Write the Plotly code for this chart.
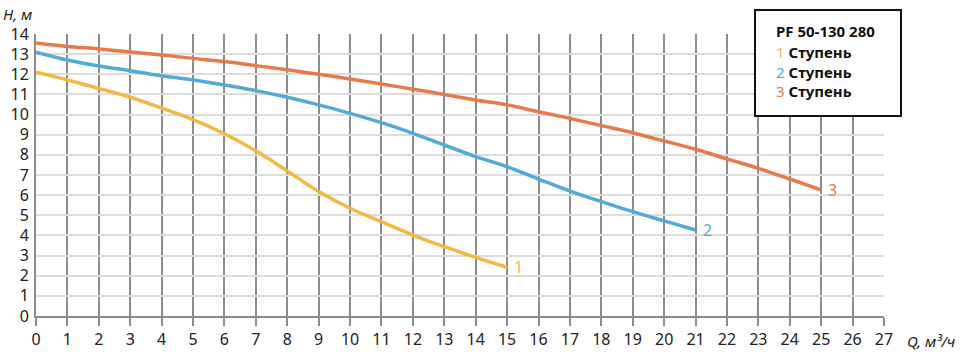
import plotly.graph_objects as go

q1 = list(range(0, 16))
h1 = [12.1, 11.72, 11.3, 10.86, 10.32, 9.75, 9.05, 8.2, 7.2, 6.18, 5.35, 4.68, 4.02, 3.44, 2.91, 2.42]

q2 = list(range(0, 22))
h2 = [13.1, 12.71, 12.41, 12.18, 11.93, 11.72, 11.47, 11.19, 10.86, 10.48, 10.06, 9.6, 9.07, 8.49, 7.91,
      7.41, 6.8, 6.2, 5.68, 5.18, 4.72, 4.27]

q3 = list(range(0, 26))
h3 = [13.55, 13.38, 13.26, 13.11, 12.96, 12.79, 12.63, 12.43, 12.23, 12.0, 11.77, 11.52, 11.26, 11.0, 10.72,
      10.48, 10.14, 9.81, 9.45, 9.1, 8.69, 8.28, 7.8, 7.33, 6.8, 6.26]

series_names = ["1", "2", "3"]
colors = ["#F3B844", "#52AAD8", "#E8794A"]
legend_title = "PF 50-130 280"
legend_word = "Ступень"
x_title = "Q, м³/ч"
y_title = "H, м"
x_ticks = list(range(0, 28))
y_ticks = list(range(0, 15))

fig = go.Figure()
for q, h, name, c in zip([q1, q2, q3], [h1, h2, h3], series_names, colors):
    fig.add_trace(go.Scatter(x=q, y=h, mode="lines", line=dict(color=c, width=3.5, shape="spline", smoothing=1.0),
                             showlegend=False, hoverinfo="skip"))
    fig.add_annotation(x=q[-1], y=h[-1], text=name, showarrow=False, xanchor="left", yanchor="middle",
                       xshift=5, font=dict(color=c, size=16, family="Noto Sans"))

fig.update_layout(
    width=960, height=353,
    margin=dict(l=36, r=76, t=34, b=37, autoexpand=False),
    paper_bgcolor="white", plot_bgcolor="white",
    font=dict(family="Noto Sans", color="#222"),
)
fig.update_xaxes(range=[0, 27], tickvals=x_ticks, showgrid=True, gridcolor="#8c8c8c", gridwidth=2,
                 showline=True, linecolor="#8c8c8c", linewidth=2, ticks="outside", ticklen=8,
                 tickcolor="#8c8c8c", tickwidth=2, tickfont=dict(size=16, color="#222"), zeroline=False,
                 automargin=False)
fig.update_yaxes(range=[0, 14], tickvals=y_ticks, showgrid=True, gridcolor="#dcdcdc", gridwidth=2,
                 showline=True, linecolor="#8c8c8c", linewidth=2, ticks="", tickfont=dict(size=16, color="#222"),
                 zeroline=False, automargin=False, ticklabelstandoff=2)

W = 848.0
H = 282.0
def px(x):
    return (x - 36) / W
def py(y):
    return (316 - y) / H

fig.add_shape(type="rect", xref="paper", yref="paper", x0=px(755), x1=px(901), y0=py(116), y1=py(10),
              line=dict(color="#111", width=2), fillcolor="white", layer="above")
fig.add_annotation(xref="paper", yref="paper", x=px(774), y=py(31), text="<b>" + legend_title + "</b>",
                   showarrow=False, xanchor="left", yanchor="middle", font=dict(size=15, color="#111"))
for i, (name, c) in enumerate(zip(series_names, colors)):
    fig.add_annotation(xref="paper", yref="paper", x=px(774), y=py(52 + 19.5 * i),
                       text=f"<span style='color:{c}'>{name}</span> <b>{legend_word}</b>",
                       showarrow=False, xanchor="left", yanchor="middle", font=dict(size=15, color="#111"))

fig.add_annotation(xref="paper", yref="paper", x=px(1), y=py(14), text=f"<i>{y_title}</i>", showarrow=False,
                   xanchor="left", yanchor="middle", font=dict(size=15, color="#222"))
fig.add_annotation(xref="paper", yref="paper", x=px(905), y=py(341), text=f"<i>{x_title}</i>", showarrow=False,
                   xanchor="left", yanchor="middle", font=dict(size=15, color="#222"))

fig.write_html("out.html")
